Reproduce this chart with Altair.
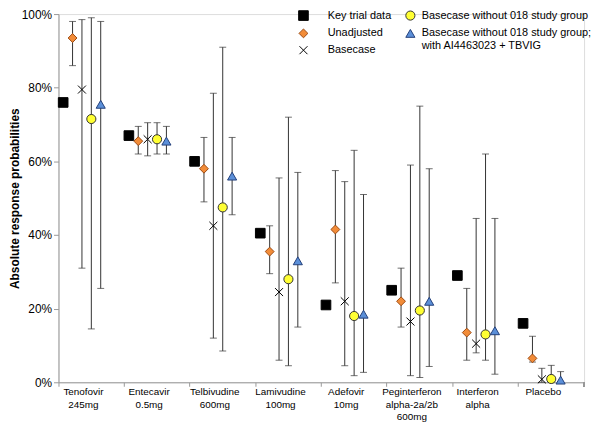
import altair as alt
import pandas as pd

categories = ["Tenofovir|245mg", "Entecavir|0.5mg", "Telbivudine|600mg", "Lamivudine|100mg",
              "Adefovir|10mg", "Peginterferon|alpha-2a/2b|600mg", "Interferon|alpha", "Placebo"]
series = ["Key trial data", "Unadjusted", "Basecase", "Basecase without 018 study group",
          "Basecase without 018 study group; with AI4463023 + TBVIG"]

key_trial = [76, 67, 60, 40.5, 21, 25, 29, 16]
unadj = [93.5, 65.5, 58, 35.5, 41.5, 22, 13.5, 6.5]
unadj_lo = [86, 62, 49, 29.5, 27, 15, 6, 5.5]
unadj_hi = [98, 69.5, 66.5, 42.5, 57.5, 31, 25.5, 12.5]
base = [79.5, 66, 42.5, 24.5, 22, 16.5, 10.5, 0.8]
base_lo = [31, 61.5, 12, 6, 4.5, 1.8, 8, 0]
base_hi = [98.5, 70.5, 78.5, 55.5, 54.5, 59, 44.5, 3.8]
b018 = [71.5, 66, 47.5, 28, 18, 19.5, 13, 0.9]
b018_lo = [14.5, 62, 8.5, 4.5, 1.8, 1.3, 6, 0]
b018_hi = [99, 70.5, 91, 72, 63, 75, 62, 4.6]
tbvig = [75.5, 65.5, 56, 33, 18.5, 22, 14, 0.6]
tbvig_lo = [25.5, 62, 45.5, 15, 2.7, 4.3, 2.2, 0]
tbvig_hi = [98, 69.5, 66.5, 57, 51, 58, 44.5, 2.9]

y_ticks = list(range(0, 101, 10))

vals = [key_trial, unadj, base, b018, tbvig]
los = [None, unadj_lo, base_lo, b018_lo, tbvig_lo]
his = [None, unadj_hi, base_hi, b018_hi, tbvig_hi]

rows = []
for s, v, lo, hi in zip(series, vals, los, his):
    for i, c in enumerate(categories):
        rows.append({"cat": c, "series": s, "value": v[i],
                     "lo": lo[i] if lo else None, "hi": hi[i] if hi else None})
df = pd.DataFrame(rows)
bars = df.dropna(subset=["lo"])

X_PATH = "M-1,-1L1,1M1,-1L-1,1"
shape_range = ["square", "diamond", X_PATH, "circle", "triangle-up"]
fill_range = ["#000000", "#F28C38", "transparent", "#FFFF33", "#5B8FD8"]
stroke_range = ["#000000", "#9C4A12", "#000000", "#333333", "#23407A"]
size_range = [95, 65, 45, 85, 85]

offset_domain = series + ["_a", "_b"]

W, H = 531, 372

x_enc = alt.X("cat:N", sort=categories,
              scale=alt.Scale(domain=categories, paddingInner=0, paddingOuter=0),
              axis=alt.Axis(title=None, bandPosition=0, labelOffset=-8, labelAngle=0,
                            labelExpr="split(datum.label, '|')", labelFontSize=10,
                            labelFont="Liberation Sans", labelColor="#000",
                            labelBaseline="top", labelLineHeight=13, labelPadding=0,
                            tickSize=4, tickColor="#999", domainColor="#999"))
xo_enc = alt.XOffset("series:N", scale=alt.Scale(domain=offset_domain, paddingInner=0, paddingOuter=0))
y_scale = alt.Scale(domain=[0, 100], nice=False)
y_axis = alt.Axis(values=y_ticks, labelExpr="datum.value + '%'", title="Absolute response probabilities",
                  titleFontWeight="bold", titleFontSize=12, titleFont="Liberation Sans",
                  titlePadding=0, titleColor="#000",
                  labelFontSize=12, labelFont="Liberation Sans", labelColor="#000", labelPadding=2,
                  grid=False, tickSize=5, tickColor="#999", domainColor="#999")

rules = alt.Chart(bars).mark_rule(color="#333", strokeWidth=1).encode(
    x=x_enc, xOffset=xo_enc,
    y=alt.Y("lo:Q", scale=y_scale, axis=y_axis), y2="hi:Q")

caps = alt.Chart(bars).transform_fold(["lo", "hi"], as_=["end", "v"]).mark_tick(
    color="#333", size=7, thickness=1).encode(
    x=x_enc, xOffset=xo_enc, y=alt.Y("v:Q", scale=y_scale))

label_expr = ("indexof(datum.label, '; ') > 0 ? [slice(datum.label, 0, indexof(datum.label, '; ') + 1), "
              "slice(datum.label, indexof(datum.label, '; ') + 2)] : datum.label")


def point_layer(idx, lx, loff):
    dom = [series[i] for i in idx]
    leg = alt.Legend(title=None, orient="none", legendX=lx, legendY=-4,
                     rowPadding=4, labelFontSize=11, labelFont="Liberation Sans",
                     labelColor="#000", labelOffset=loff, labelLimit=300,
                     symbolStrokeWidth=1, labelExpr=label_expr)
    return alt.Chart(df[df["series"].isin(dom)]).mark_point(opacity=1, strokeWidth=1).encode(
        x=x_enc, xOffset=xo_enc,
        y=alt.Y("value:Q", scale=y_scale),
        shape=alt.Shape("series:N", scale=alt.Scale(domain=dom, range=[shape_range[i] for i in idx]), legend=leg),
        fill=alt.Fill("series:N", scale=alt.Scale(domain=dom, range=[fill_range[i] for i in idx]), legend=leg),
        stroke=alt.Stroke("series:N", scale=alt.Scale(domain=dom, range=[stroke_range[i] for i in idx]), legend=leg),
        size=alt.Size("series:N", scale=alt.Scale(domain=dom, range=[size_range[i] for i in idx]), legend=leg),
    )


points_a = point_layer([0, 1, 2], 242, 19)
points_b = point_layer([3, 4], 350, 6)

end_tick = alt.Chart(df).mark_rule(color="#999").encode(
    x=alt.value(W), y=alt.value(H), y2=alt.value(H + 4))

chart = alt.layer(rules, caps, points_a, points_b, end_tick).resolve_scale(
    shape="independent", fill="independent", stroke="independent", size="independent"
).properties(
    width=W, height=H,
    autosize=alt.AutoSizeParams(type="none"),
    padding={"left": 51, "top": 4, "right": 8, "bottom": 41},
).configure_view(stroke=None).configure(font="Liberation Sans")

chart.save("out.html", embed_options={"renderer": "svg", "actions": False})
